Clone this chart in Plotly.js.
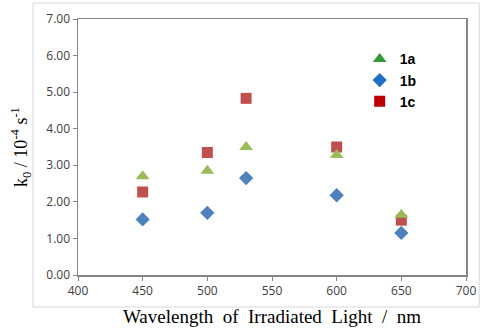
<!DOCTYPE html>
<html>
<head>
<meta charset="utf-8">
<script src="https://cdn.plot.ly/plotly-3.0.1.min.js"></script>
<style>html,body{margin:0;padding:0;background:#fff;}#chart{width:480px;height:331px;}</style>
</head>
<body>
<div id="chart"></div>
<script>
const wavelengths = [450, 500, 530, 600, 650];
const series1a = [2.70, 2.85, 3.50, 3.28, 1.65];
const series1b = [1.52, 1.70, 2.65, 2.18, 1.15];
const series1c = [2.27, 3.35, 4.83, 3.50, 1.50];
const seriesNames = ['1a', '1b', '1c'];
const xTicks = [400, 450, 500, 550, 600, 650, 700];
const yTicks = [0, 1, 2, 3, 4, 5, 6, 7];

const plotColors = ['#9BBB59', '#4F81BD', '#C0504D'];
const legendColors = ['#339933', '#1F6FC4', '#C00000'];
const symbols = ['triangle-up', 'diamond', 'square'];
const sizes = [12, 11, 11];
const data = [series1a, series1b, series1c];

const traces = [];
[1, 2, 0].forEach(i => {
  traces.push({
    x: wavelengths, y: data[i], type: 'scatter', mode: 'markers',
    name: seriesNames[i], showlegend: false,
    marker: {symbol: symbols[i], size: sizes[i], color: plotColors[i], line: {width: 0}}
  });
});
[0, 1, 2].forEach(i => {
  traces.push({
    x: [null], y: [null], type: 'scatter', mode: 'markers',
    name: seriesNames[i], showlegend: true,
    marker: {symbol: symbols[i], size: sizes[i], color: legendColors[i], line: {width: 0}}
  });
});

const tickFont = {family: 'Open Sans, sans-serif', size: 12, color: '#404040'};
const layout = {
  width: 480, height: 331,
  margin: {l: 78, r: 14, t: 19, b: 56},
  paper_bgcolor: '#ffffff', plot_bgcolor: '#ffffff',
  showlegend: true,
  legend: {x: 0.726, y: 0.905, xanchor: 'left', yanchor: 'top', bgcolor: 'rgba(0,0,0,0)',
    font: {family: 'Liberation Sans, Arial, sans-serif', size: 14, color: '#000', weight: 'bold'},
    itemwidth: 20, tracegroupgap: 0},
  xaxis: {
    range: [400, 700], tickvals: xTicks, ticktext: xTicks.map(String),
    showgrid: false, zeroline: false, showline: true, linecolor: '#868686', linewidth: 1.5,
    mirror: true, ticks: 'outside', ticklen: 4, tickcolor: '#868686', tickwidth: 1,
    tickfont: tickFont,
    title: {text: 'Wavelength  of  Irradiated  Light  /  nm', standoff: 12,
      font: {family: 'Liberation Serif, Times New Roman, serif', size: 19, color: '#000'}}
  },
  yaxis: {
    range: [0, 7], tickvals: yTicks, ticktext: yTicks.map(v => v.toFixed(2)),
    showgrid: false, zeroline: false, showline: true, linecolor: '#868686', linewidth: 1.5,
    mirror: true, ticks: 'outside', ticklen: 4, tickcolor: '#868686', tickwidth: 1,
    tickfont: tickFont,
    title: {text: 'k<sub>0</sub> / 10<sup>-4</sup> s<sup>-1</sup>', standoff: 14,
      font: {family: 'Liberation Serif, Times New Roman, serif', size: 18, color: '#000'}}
  },
  shapes: [{
    type: 'rect', xref: 'paper', yref: 'paper',
    x0: -0.116, x1: 1.034, y0: -0.125, y1: 1.0625,
    line: {color: '#D9D9D9', width: 1}, layer: 'below'
  }]
};
Plotly.newPlot('chart', traces, layout, {displayModeBar: false, staticPlot: true});
</script>
</body>
</html>
